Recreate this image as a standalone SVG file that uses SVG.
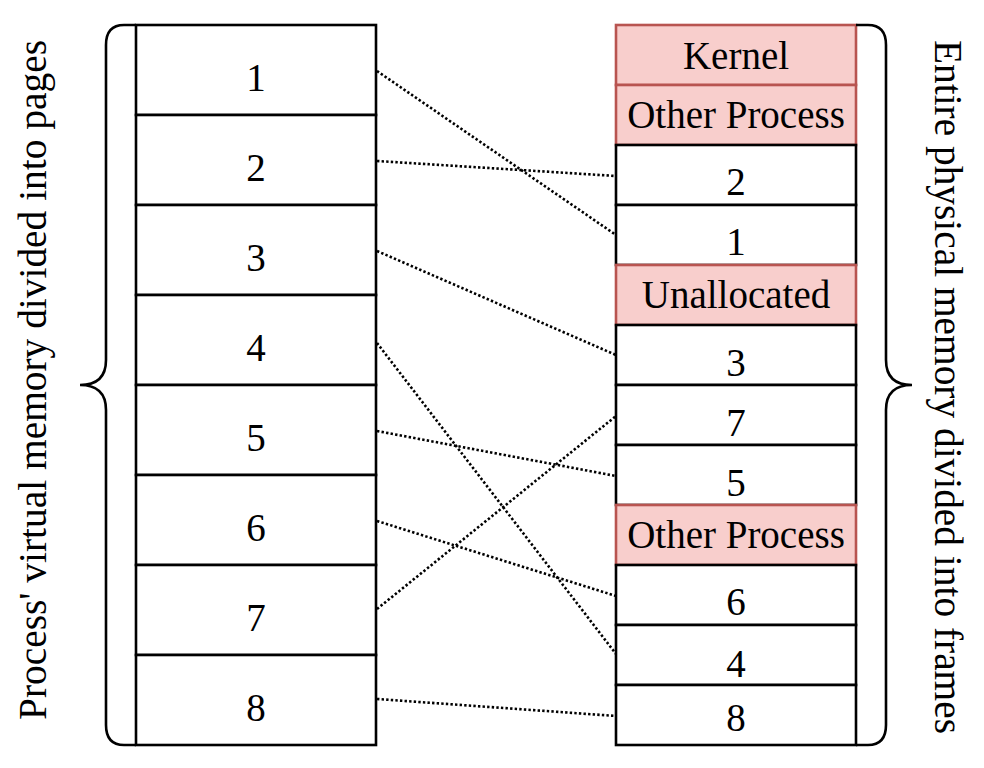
<svg xmlns="http://www.w3.org/2000/svg" width="984" height="768" viewBox="0 0 984 768">
<style>
  text { font-family: "Liberation Serif", "Times New Roman", serif; font-size: 39px; fill: #000; text-anchor: middle; }
  .page { fill: #fff; stroke: #000; stroke-width: 2.6; }
  .frame { fill: #fff; stroke: #000; stroke-width: 2.6; }
  .other { fill: #f8cecc; stroke: #b85450; stroke-width: 2.6; }
  .brace { fill: none; stroke: #000; stroke-width: 2.6; }
  .link { fill: none; stroke: #000; stroke-width: 2.6; stroke-dasharray: 2.4 2.2; }
</style>
<rect width="984" height="768" fill="#fff"/>

<g id="virtual-pages">
  <g id="page-1"><rect class="page" x="136" y="25" width="240" height="90"/><text x="256" y="91">1</text></g>
  <g id="page-2"><rect class="page" x="136" y="115" width="240" height="90"/><text x="256" y="181">2</text></g>
  <g id="page-3"><rect class="page" x="136" y="205" width="240" height="90"/><text x="256" y="271">3</text></g>
  <g id="page-4"><rect class="page" x="136" y="295" width="240" height="90"/><text x="256" y="361">4</text></g>
  <g id="page-5"><rect class="page" x="136" y="385" width="240" height="90"/><text x="256" y="451">5</text></g>
  <g id="page-6"><rect class="page" x="136" y="475" width="240" height="90"/><text x="256" y="541">6</text></g>
  <g id="page-7"><rect class="page" x="136" y="565" width="240" height="90"/><text x="256" y="631">7</text></g>
  <g id="page-8"><rect class="page" x="136" y="655" width="240" height="90"/><text x="256" y="721">8</text></g>
</g>

<g id="physical-frames">
  <g id="frame-kernel"><rect class="other" x="616" y="25" width="240" height="60"/><text x="736" y="69">Kernel</text></g>
  <g id="frame-other-1"><rect class="other" x="616" y="85" width="240" height="60"/><text x="736" y="128">Other Process</text></g>
  <g id="frame-2"><rect class="frame" x="616" y="145" width="240" height="60"/><text x="736" y="195">2</text></g>
  <g id="frame-1"><rect class="frame" x="616" y="205" width="240" height="60"/><text x="736" y="255">1</text></g>
  <g id="frame-unallocated"><rect class="other" x="616" y="265" width="240" height="60"/><text x="736" y="308">Unallocated</text></g>
  <g id="frame-3"><rect class="frame" x="616" y="325" width="240" height="60"/><text x="736" y="376">3</text></g>
  <g id="frame-7"><rect class="frame" x="616" y="385" width="240" height="60"/><text x="736" y="436">7</text></g>
  <g id="frame-5"><rect class="frame" x="616" y="445" width="240" height="60"/><text x="736" y="496">5</text></g>
  <g id="frame-other-2"><rect class="other" x="616" y="505" width="240" height="60"/><text x="736" y="548">Other Process</text></g>
  <g id="frame-6"><rect class="frame" x="616" y="565" width="240" height="60"/><text x="736" y="615">6</text></g>
  <g id="frame-4"><rect class="frame" x="616" y="625" width="240" height="60"/><text x="736" y="677">4</text></g>
  <g id="frame-8"><rect class="frame" x="616" y="685" width="240" height="60"/><text x="736" y="731">8</text></g>
</g>

<g id="braces">
  <path class="brace" d="M136,25 H124 Q106,25 106,45 V360 Q106,385 80,385 Q106,385 106,410 V725 Q106,745 124,745 H136"/>
  <path class="brace" d="M856,25 H868 Q886,25 886,45 V360 Q886,385 912,385 Q886,385 886,410 V725 Q886,745 868,745 H856"/>
</g>

<g id="labels">
  <text transform="translate(46,380) rotate(-90)" textLength="680" lengthAdjust="spacingAndGlyphs">Process' virtual memory divided into pages</text>
  <text transform="translate(935,387) rotate(90)" textLength="694" lengthAdjust="spacingAndGlyphs">Entire physical memory divided into frames</text>
</g>

<g id="connectors">
  <line class="link" x1="377" y1="71" x2="616" y2="235"/>
  <line class="link" x1="377" y1="161" x2="616" y2="176"/>
  <line class="link" x1="377" y1="251" x2="616" y2="355"/>
  <line class="link" x1="377" y1="343" x2="616" y2="654"/>
  <line class="link" x1="377" y1="431" x2="616" y2="476"/>
  <line class="link" x1="377" y1="521" x2="616" y2="596"/>
  <line class="link" x1="377" y1="609" x2="616" y2="416"/>
  <line class="link" x1="377" y1="699" x2="616" y2="716"/>
</g>
</svg>
